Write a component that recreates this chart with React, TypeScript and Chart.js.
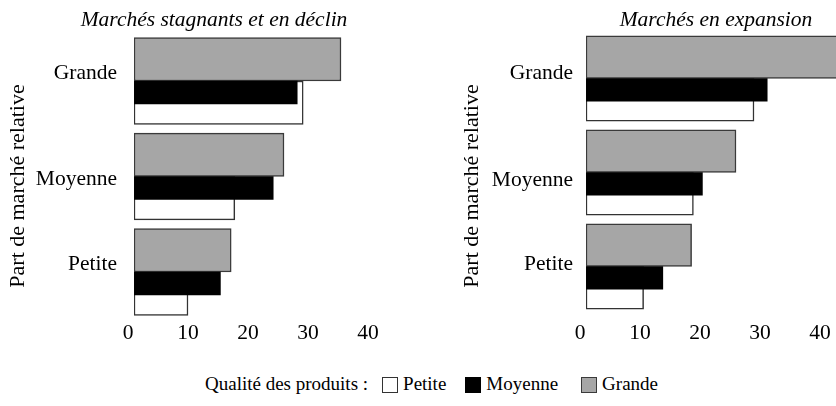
import React, { useEffect, useRef } from "react";
import { Chart, registerables } from "chart.js";

Chart.register(...registerables);

// ---- Data -------------------------------------------------------------
const categories = ["Grande", "Moyenne", "Petite"]; // Part de marché relative
const xTicks = [0, 10, 20, 30, 40];

// Marchés stagnants et en déclin (par qualité des produits)
const declinPetite = [28.2, 16.8, 9.0];
const declinMoyenne = [27.2, 23.2, 14.4];
const declinGrande = [34.5, 25.0, 16.2];

// Marchés en expansion (par qualité des produits)
const expansionPetite = [28.0, 17.9, 9.6];
const expansionMoyenne = [30.2, 19.4, 12.8];
const expansionGrande = [45.0, 25.0, 17.6];

// ---- Style / layout ---------------------------------------------------
const FONT = "'Liberation Serif', 'Times New Roman', serif";
const FONT_SIZE = 21.5;
const GRAY = "#a6a6a6";
const PX_PER_UNIT = 6;
// bar placement inside each category band (fractions of the band)
const BAND = {
  gray: { center: 0.2725, size: 0.455 },
  black: { center: 0.62, size: 0.24 },
  white: { center: 0.7275, size: 0.455 },
};

type Panel = {
  title: string;
  petite: number[];
  moyenne: number[];
  grande: number[];
  left: number;
  width: number;
  height: number;
  padLeft: number;
  padRight: number;
  yWidth: number;
  areaTop: number;
  areaBottom: number;
  yTickPad: number;
  xTickPad: number;
  yTitleX: number;
  yTitleY: number;
  labelPos: number[];
};

const panels: Panel[] = [
  {
    title: "Marchés stagnants et en déclin",
    petite: declinPetite,
    moyenne: declinMoyenne,
    grande: declinGrande,
    left: 0,
    width: 428,
    height: 360,
    padLeft: 0,
    padRight: 0,
    yWidth: 134,
    areaTop: 33.25,
    areaBottom: 319.75,
    yTickPad: 17,
    xTickPad: 0.4,
    yTitleX: 18,
    yTitleY: 186,
    labelPos: [0.425, 0.535, 0.415],
  },
  {
    title: "Marchés en expansion",
    petite: expansionPetite,
    moyenne: expansionMoyenne,
    grande: expansionGrande,
    left: 418,
    width: 596,
    height: 360,
    padLeft: 36,
    padRight: 36,
    yWidth: 132,
    areaTop: 31.5,
    areaBottom: 313.5,
    yTickPad: 13,
    xTickPad: 6.65,
    yTitleX: 54,
    yTitleY: 186,
    labelPos: [0.45, 0.58, 0.48],
  },
];

const yTitlePlugin = {
  id: "yTitleText",
  afterDraw(chart: any, _args: any, opts: any) {
    const ctx = chart.ctx;
    ctx.save();
    ctx.translate(opts.x, opts.y);
    ctx.rotate(-Math.PI / 2);
    ctx.font = `22px ${FONT}`;
    ctx.fillStyle = "#000";
    ctx.textAlign = "center";
    ctx.textBaseline = "middle";
    ctx.fillText(opts.text, 0, 0);
    ctx.restore();
  },
};

function PanelChart({ p }: { p: Panel }) {
  const ref = useRef<HTMLCanvasElement | null>(null);
  useEffect(() => {
    if (!ref.current) return;
    const pitch = (p.areaBottom - p.areaTop) / categories.length;
    const areaWidth = p.width - p.padLeft - p.padRight - p.yWidth;
    const xMax = areaWidth / PX_PER_UNIT;
    const titleLine = FONT_SIZE;
    const titlePadTop = 20.5 - titleLine / 2;
    const titlePadBottom = p.areaTop - titlePadTop - titleLine;

    const mk = (label: string, vals: number[], key: "gray" | "black" | "white", bg: string, border: string, bw: number) => ({
      label,
      data: categories.map((_, i) => ({ x: vals[i], y: i + BAND[key].center })),
      backgroundColor: bg,
      borderColor: border,
      borderWidth: bw,
      borderSkipped: false,
      barThickness: BAND[key].size * pitch,
      grouped: false,
    });

    const chart = new Chart(ref.current, {
      type: "bar",
      data: {
        datasets: [
          mk("Moyenne", p.moyenne, "black", "#000000", "#000000", 0),
          mk("Grande", p.grande, "gray", GRAY, "#3a3a3a", 1.5),
          mk("Petite", p.petite, "white", "#ffffff", "#333333", 1.5),
        ] as any,
      },
      options: {
        indexAxis: "y",
        animation: false,
        responsive: false,
        events: [],
        layout: { padding: { left: p.padLeft, right: p.padRight, top: 0, bottom: 0 } },
        plugins: {
          legend: { display: false },
          tooltip: { enabled: false },
          title: {
            display: true,
            text: p.title,
            color: "#000",
            font: { family: FONT, size: FONT_SIZE, style: "italic", weight: "normal", lineHeight: 1 },
            padding: { top: titlePadTop, bottom: titlePadBottom },
          },
          yTitleText: { text: "Part de marché relative", x: p.yTitleX, y: p.yTitleY },
        } as any,
        scales: {
          x: {
            type: "linear",
            position: "bottom",
            min: 0,
            max: xMax,
            offset: false,
            grid: { display: false, drawTicks: false },
            border: { display: false },
            afterBuildTicks: (s: any) => {
              s.ticks = xTicks.map((v) => ({ value: v }));
            },
            afterFit: (s: any) => {
              s.height = p.height - p.areaBottom;
            },
            ticks: {
              color: "#000",
              font: { family: FONT, size: FONT_SIZE },
              padding: p.xTickPad,
              labelOffset: -6,
              maxRotation: 0,
              autoSkip: false,
            },
          },
          y: {
            type: "linear",
            position: "left",
            min: 0,
            max: categories.length,
            offset: false,
            reverse: true,
            grid: { display: false, drawTicks: false, offset: false },
            border: { display: false },
            afterBuildTicks: (s: any) => {
              s.ticks = categories.map((_, i) => ({ value: i + p.labelPos[i] }));
            },
            afterFit: (s: any) => {
              s.width = p.yWidth;
            },
            ticks: {
              color: "#000",
              font: { family: FONT, size: FONT_SIZE },
              padding: p.yTickPad,
              autoSkip: false,
              callback: (_v: any, i: number) => categories[i],
            },
          },
        },
      } as any,
      plugins: [yTitlePlugin],
    });
    return () => chart.destroy();
  }, [p]);
  return (
    <canvas
      ref={ref}
      width={p.width}
      height={p.height}
      style={{ position: "absolute", left: p.left, top: 0, width: p.width, height: p.height }}
    />
  );
}

const legendItems = [
  { label: "Petite", bg: "#ffffff", border: "#333" },
  { label: "Moyenne", bg: "#000000", border: "#000" },
  { label: "Grande", bg: GRAY, border: "#3a3a3a" },
];

export default function App() {
  return (
    <div
      style={{
        position: "fixed",
        left: 0,
        top: 0,
        width: 836,
        height: 406,
        overflow: "hidden",
        background: "#fff",
      }}
    >
      {panels.map((p, i) => (
        <PanelChart key={i} p={p} />
      ))}
      <div
        style={{
          position: "absolute",
          left: 205,
          top: 374,
          height: 20,
          display: "flex",
          alignItems: "center",
          fontFamily: FONT,
          fontSize: 19,
          lineHeight: "20px",
          color: "#000",
          whiteSpace: "nowrap",
        }}
      >
        <span style={{ marginRight: 14 }}>Qualité des produits :</span>
        {legendItems.map((it, i) => (
          <span key={i} style={{ display: "flex", alignItems: "center", marginRight: i === 0 ? 19 : 23 }}>
            <span
              style={{
                display: "inline-block",
                width: 14,
                height: 14,
                background: it.bg,
                border: `1px solid ${it.border}`,
                marginRight: 5,
                marginTop: 2,
              }}
            />
            <span>{it.label}</span>
          </span>
        ))}
      </div>
    </div>
  );
}
